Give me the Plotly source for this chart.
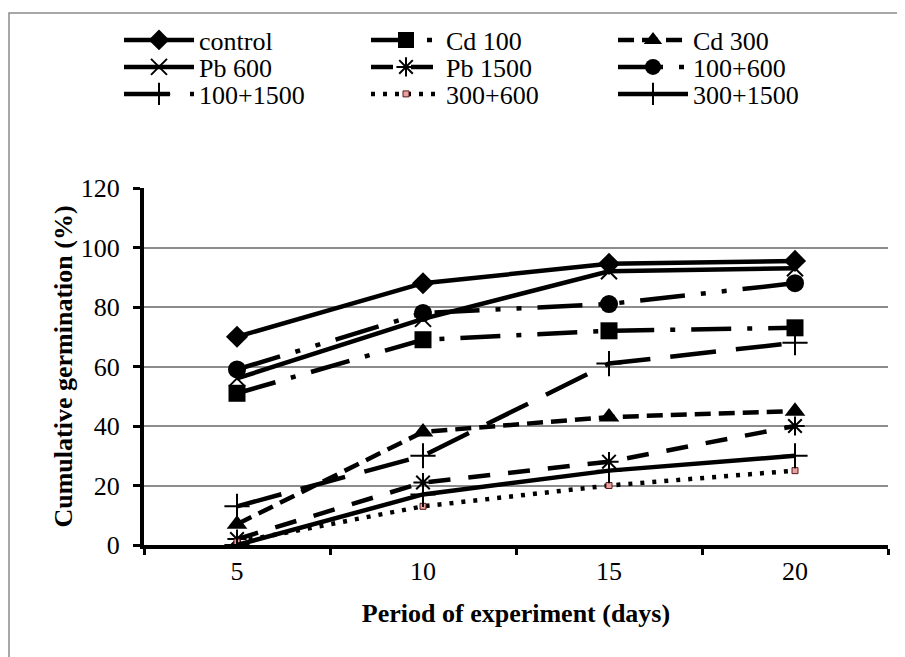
import plotly.graph_objects as go

days = ["5", "10", "15", "20"]
control = [70, 88, 94.5, 95.5]
cd100 = [51, 69, 72, 73]
cd300 = [7, 38, 43, 45]
pb600 = [56, 76, 92, 93]
pb1500 = [2, 21, 28, 40]
mix100_600 = [59, 78, 81, 88]
mix100_1500 = [13, 30, 61, 68]
mix300_600 = [1, 13, 20, 25]
mix300_1500 = [0, 17, 25, 30]

FONT = "Times New Roman, Liberation Serif, Tinos, serif"

series = [
    ("control", control, "solid", dict(symbol="diamond", size=17, color="black")),
    ("Cd 100", cd100, "40px,16px,5px,16px", dict(symbol="square", size=17, color="black")),
    ("Cd 300", cd300, "16px,8px", dict(symbol="triangle-up", size=18, color="black")),
    ("Pb 600", pb600, "solid", dict(symbol="x-thin", size=16, color="black", line=dict(width=2, color="black"))),
    ("Pb 1500", pb1500, "22px,18px", dict(symbol="asterisk", size=16, color="black", line=dict(width=2, color="black"))),
    ("100+600", mix100_600, "45px,16px,5px,16px,5px,16px", dict(symbol="circle", size=18, color="black")),
    ("100+1500", mix100_1500, "46px,20px", dict(symbol="cross-thin", size=18, color="black", line=dict(width=2, color="black"))),
    ("300+600", mix300_600, "4px,8px", dict(symbol="square", size=6, color="#e8a0a0", line=dict(width=1, color="#5a1a1a"))),
    ("300+1500", mix300_1500, "solid", dict(symbol="cross-thin", size=18, color="black", line=dict(width=2, color="black"))),
]
legend_rows = ["legend", "legend", "legend",
               "legend2", "legend2", "legend2",
               "legend3", "legend3", "legend3"]

fig = go.Figure()
for (name, vals, dash, marker), lg in zip(series, legend_rows):
    fig.add_trace(go.Scatter(
        x=days, y=vals, name=name, mode="lines+markers",
        line=dict(color="black", width=4.5, dash=dash),
        marker=marker, legend=lg,
    ))

# page body has an 8px default margin; work in screen pixels and shift
OFF = 8
W, H = 905, 657
L, R, T, B = 144 - OFF, W - (888 - OFF), 188 - OFF, H - (545 - OFF)
pw, ph = W - L - R, H - T - B

def px(x):
    return (x - OFF - L) / pw

def py(y):
    return (H - B - (y - OFF)) / ph

def legend_row(ycenter):
    return dict(
        orientation="h", x=px(119), y=py(ycenter), xanchor="left", yanchor="middle",
        entrywidth=162, entrywidthmode="pixels",
        font=dict(size=26, family=FONT, color="black"),
        itemwidth=70, tracegroupgap=0, bgcolor="rgba(0,0,0,0)",
    )

fig.update_layout(
    width=W, height=H,
    margin=dict(l=L, r=R, t=T, b=B, autoexpand=False),
    paper_bgcolor="white", plot_bgcolor="white",
    font=dict(family=FONT, color="black", size=26),
    showlegend=True,
    legend=legend_row(40),
    legend2=legend_row(67),
    legend3=legend_row(94),
    xaxis=dict(
        type="category", range=[-0.5, 3.5], tickson="boundaries",
        ticks="outside", ticklen=6, tickwidth=3, tickcolor="black",
        showline=True, linewidth=4, linecolor="black", showgrid=False,
        ticklabelstandoff=0, tickfont=dict(family=FONT, size=26, color="black"),
        title=dict(text="<b>Period of experiment (days)</b>", font=dict(family=FONT, size=26, color="black"), standoff=20),
    ),
    yaxis=dict(
        range=[0, 120], dtick=20, ticks="outside", ticklen=7, tickwidth=3, tickcolor="black",
        showline=True, linewidth=4, linecolor="black",
        showgrid=True, gridcolor="#8c8c8c", gridwidth=1.5, zeroline=False,
        ticklabelstandoff=8, tickfont=dict(family=FONT, size=26, color="black"),
        title=dict(text="<b>Cumulative germination (%)</b>", font=dict(family=FONT, size=26, color="black"), standoff=2),
    ),
    shapes=[dict(type="rect", xref="paper", yref="paper",
                 x0=px(9), x1=px(940), y0=py(690), y1=py(13),
                 line=dict(color="#8a8a8a", width=1.5), fillcolor="rgba(0,0,0,0)", layer="below")],
)

fig.write_html("out.html")
